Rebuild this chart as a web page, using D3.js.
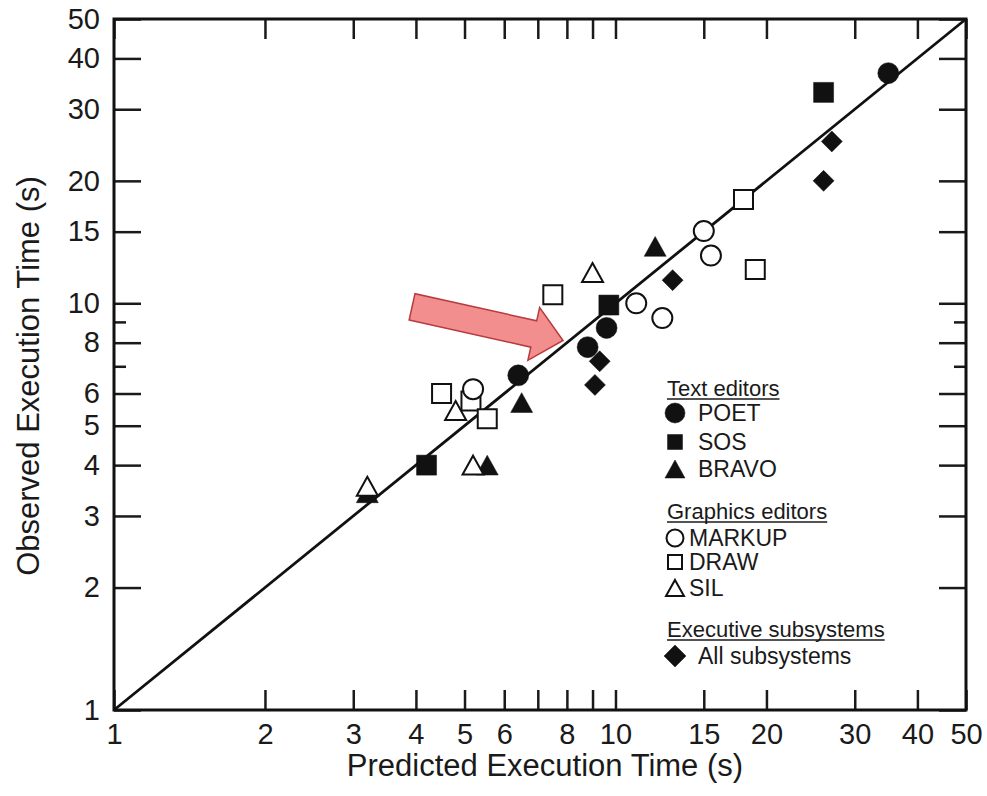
<!DOCTYPE html>
<html>
<head>
<meta charset="utf-8">
<script src="https://cdn.jsdelivr.net/npm/d3@7"></script>
<style>
  body { margin: 0; background: #fff; }
  text { font-family: Arial, "Liberation Sans", Helvetica, sans-serif; fill: #1a1a1a; }
</style>
</head>
<body>
<div class="chart"></div>
<script>
var svgWidth = 987;
var svgHeight = 796;

var margin = { top: 19, right: 21, bottom: 86, left: 114 };
var width = svgWidth - margin.left - margin.right;
var height = svgHeight - margin.top - margin.bottom;

// tick values and labels
var xTickValues = [1, 2, 3, 4, 5, 6, 7, 8, 9, 10, 15, 20, 30, 40, 50];
var yTickValues = [1, 2, 3, 4, 5, 6, 7, 8, 9, 10, 15, 20, 30, 40, 50];
var tickLabels = [1, 2, 3, 4, 5, 6, 8, 10, 15, 20, 30, 40, 50];
var yMinorTicks = [7, 9];

// Text editors
var poetPred = [35, 9.6, 8.8, 6.4];
var poetObs = [36.8, 8.7, 7.8, 6.65];
var sosPred = [26, 9.7, 4.2];
var sosObs = [33, 9.9, 4.0];
var bravoPred = [12, 6.5, 5.55, 3.2];
var bravoObs = [13.8, 5.7, 4.0, 3.42];
// Graphics editors
var markupPred = [15, 15.5, 11, 12.4, 5.2];
var markupObs = [15.05, 13.1, 10.0, 9.2, 6.15];
var drawPred = [18, 19, 7.5, 4.5, 5.15, 5.55];
var drawObs = [18, 12.1, 10.5, 6.0, 5.75, 5.2];
var silPred = [9.0, 4.8, 5.2, 3.2];
var silObs = [11.9, 5.45, 4.0, 3.55];
// Executive subsystems
var allPred = [27, 26, 13, 9.3, 9.1];
var allObs = [25, 20, 11.4, 7.2, 6.3];

// annotation arrow (tail -> tip, in data units)
var arrowFrom = [3.93, 9.8];
var arrowTo = [7.86, 8.1];

var svg = d3.select(".chart")
  .append("svg")
  .attr("width", svgWidth)
  .attr("height", svgHeight);

svg.append("rect").attr("width", svgWidth).attr("height", svgHeight).attr("fill", "#fff");

var chartGroup = svg.append("g")
  .attr("transform", `translate(${margin.left}, ${margin.top})`);

var xScale = d3.scaleLog().domain([1, 50]).range([0, width]);
var yScale = d3.scaleLog().domain([1, 50]).range([height, 0]);

var fmt = d => tickLabels.includes(d) ? d : "";

// axes on all four sides, ticks pointing inward
var bottomAxis = d3.axisBottom(xScale).tickValues(xTickValues).tickSizeInner(-20).tickSizeOuter(0).tickPadding(13).tickFormat(fmt);
var topAxis = d3.axisTop(xScale).tickValues(xTickValues).tickSizeInner(-20).tickSizeOuter(0).tickFormat("");
var leftAxis = d3.axisLeft(yScale).tickValues(yTickValues).tickSizeInner(-27).tickSizeOuter(0).tickPadding(14).tickFormat(fmt);
var rightAxis = d3.axisRight(yScale).tickValues(yTickValues).tickSizeInner(-27).tickSizeOuter(0).tickFormat("");

var gB = chartGroup.append("g").attr("transform", `translate(0, ${height})`).call(bottomAxis);
var gT = chartGroup.append("g").call(topAxis);
var gL = chartGroup.append("g").call(leftAxis);
var gR = chartGroup.append("g").attr("transform", `translate(${width}, 0)`).call(rightAxis);

[gB, gT, gL, gR].forEach(function (g) {
  g.select(".domain").remove();
  g.selectAll(".tick line").attr("stroke", "#1a1a1a").attr("stroke-width", 2.5);
  g.selectAll(".tick text").attr("font-size", 29).attr("fill", "#1a1a1a")
    .style("font-family", "Arial, 'Liberation Sans', Helvetica, sans-serif");
});
// 7 and 9 get short ticks on the y axes
gL.selectAll(".tick").filter(d => yMinorTicks.includes(d)).select("line").attr("x2", 12);
gR.selectAll(".tick").filter(d => yMinorTicks.includes(d)).select("line").attr("x2", -12);

// frame
chartGroup.append("rect")
  .attr("width", width).attr("height", height)
  .attr("fill", "none").attr("stroke", "#111").attr("stroke-width", 3);

// 1:1 line
chartGroup.append("line")
  .attr("x1", xScale(1)).attr("y1", yScale(1))
  .attr("x2", xScale(50)).attr("y2", yScale(50))
  .attr("stroke", "#111").attr("stroke-width", 2.8);

// arrow annotation
function arrowPath(from, to) {
  var x0 = xScale(from[0]), y0 = yScale(from[1]);
  var x1 = xScale(to[0]), y1 = yScale(to[1]);
  var len = Math.hypot(x1 - x0, y1 - y0);
  var ux = (x1 - x0) / len, uy = (y1 - y0) / len;
  var nx = -uy, ny = ux;
  var hw = 13.5, hhw = 27, hl = 30;
  var bx = x1 - ux * hl, by = y1 - uy * hl;
  var pts = [
    [x0 + nx * hw, y0 + ny * hw],
    [bx + nx * hw, by + ny * hw],
    [bx + nx * hhw, by + ny * hhw],
    [x1, y1],
    [bx - nx * hhw, by - ny * hhw],
    [bx - nx * hw, by - ny * hw],
    [x0 - nx * hw, y0 - ny * hw]
  ];
  return "M" + pts.map(p => p.join(",")).join("L") + "Z";
}
chartGroup.append("path")
  .attr("d", arrowPath(arrowFrom, arrowTo))
  .attr("fill", "#f28e8e")
  .attr("stroke", "#b83a3f")
  .attr("stroke-width", 1.5);

// marker shapes, centred on their box
var shapes = {
  circle: s => `M${s / 2},0A${s / 2},${s / 2} 0 1,1 ${-s / 2},0A${s / 2},${s / 2} 0 1,1 ${s / 2},0Z`,
  square: s => `M${-s / 2},${-s / 2}H${s / 2}V${s / 2}H${-s / 2}Z`,
  triangle: s => `M0,${-s * 0.45}L${s / 2},${s * 0.45}L${-s / 2},${s * 0.45}Z`,
  diamond: s => `M0,${-s / 2}L${s / 2},0L0,${s / 2}L${-s / 2},0Z`
};

function drawSeries(pred, obs, shape, size, filled) {
  var pts = pred.map((p, i) => ({ p: p, o: obs[i] }));
  chartGroup.append("g").selectAll("path")
    .data(pts)
    .enter()
    .append("path")
    .attr("transform", d => `translate(${xScale(d.p)}, ${yScale(d.o)})`)
    .attr("d", shapes[shape](size))
    .attr("fill", filled ? "#111" : "#fff")
    .attr("stroke", "#111")
    .attr("stroke-width", filled ? 0.5 : 2);
}

drawSeries(bravoPred, bravoObs, "triangle", 22, true);
drawSeries(drawPred, drawObs, "square", 19, false);
drawSeries(markupPred, markupObs, "circle", 20, false);
drawSeries(silPred, silObs, "triangle", 21, false);
drawSeries(poetPred, poetObs, "circle", 21, true);
drawSeries(sosPred, sosObs, "square", 20, true);
drawSeries(allPred, allObs, "diamond", 21, true);

// axis titles
svg.append("text")
  .attr("x", 545).attr("y", 776)
  .attr("text-anchor", "middle")
  .attr("font-size", 31)
  .text("Predicted Execution Time (s)");

svg.append("text")
  .attr("transform", "rotate(-90)")
  .attr("x", -376).attr("y", 39)
  .attr("text-anchor", "middle")
  .attr("font-size", 31)
  .text("Observed Execution Time (s)");

// legend
var legend = svg.append("g");
var legendHeaders = [
  { label: "Text editors", y: 396 },
  { label: "Graphics editors", y: 519 },
  { label: "Executive subsystems", y: 637 }
];
var legendItems = [
  { label: "POET", shape: "circle", size: 20, filled: true, y: 413, tx: 698 },
  { label: "SOS", shape: "square", size: 15, filled: true, y: 442, tx: 698 },
  { label: "BRAVO", shape: "triangle", size: 20, filled: true, y: 469, tx: 698 },
  { label: "MARKUP", shape: "circle", size: 17, filled: false, y: 538, tx: 689 },
  { label: "DRAW", shape: "square", size: 14, filled: false, y: 562, tx: 689 },
  { label: "SIL", shape: "triangle", size: 18, filled: false, y: 588, tx: 689 },
  { label: "All subsystems", shape: "diamond", size: 22, filled: true, y: 656, tx: 698 }
];

legendHeaders.forEach(function (h) {
  var t = legend.append("text")
    .attr("x", 667).attr("y", h.y)
    .attr("font-size", 22)
    .text(h.label);
  var w = t.node().getComputedTextLength();
  legend.append("line")
    .attr("x1", 667).attr("x2", 667 + w)
    .attr("y1", h.y + 3).attr("y2", h.y + 3)
    .attr("stroke", "#1a1a1a").attr("stroke-width", 1.6);
});

legendItems.forEach(function (d) {
  legend.append("path")
    .attr("transform", `translate(675, ${d.y})`)
    .attr("d", shapes[d.shape](d.size))
    .attr("fill", d.filled ? "#111" : "#fff")
    .attr("stroke", "#111")
    .attr("stroke-width", d.filled ? 0.5 : 2);
  legend.append("text")
    .attr("x", d.tx).attr("y", d.y + 8)
    .attr("font-size", 23)
    .text(d.label);
});
</script>
</body>
</html>
